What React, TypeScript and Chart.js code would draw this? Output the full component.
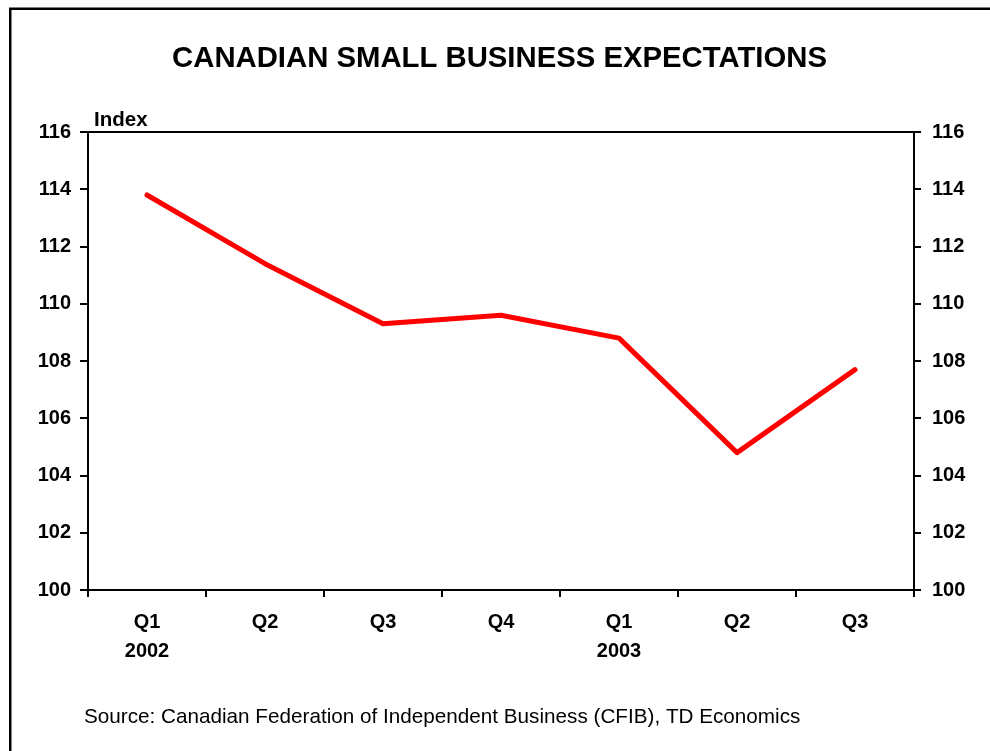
import React, { useEffect, useRef } from "react";
import { Chart, registerables } from "chart.js";

Chart.register(...registerables);

const categories: (string | string[])[] = [["Q1", "2002"], "Q2", "Q3", "Q4", ["Q1", "2003"], "Q2", "Q3"];
const expectations: number[] = [113.8, 111.4, 109.3, 109.6, 108.8, 104.8, 107.7];
const yMin = 100;
const yMax = 116;
const yStep = 2;
const titleText = "CANADIAN SMALL BUSINESS EXPECTATIONS";
const axisUnit = "Index";
const sourceText = "Source: Canadian Federation of Independent Business (CFIB), TD Economics";

const FONT = "'Liberation Sans', Arial, sans-serif";

const decorPlugin = {
  id: "decor",
  beforeDraw(chart: any) {
    const ctx = chart.ctx;
    ctx.save();
    ctx.fillStyle = "#ffffff";
    ctx.fillRect(0, 0, chart.width, chart.height);
    ctx.restore();
  },
  afterDraw(chart: any) {
    const ctx = chart.ctx;
    const a = chart.chartArea;
    ctx.save();
    ctx.strokeStyle = "#000";
    ctx.lineWidth = 2.5;
    ctx.strokeRect(10.25, 8.75, chart.width + 20, chart.height + 20);
    ctx.lineWidth = 2;
    ctx.beginPath();
    ctx.moveTo(a.left, a.top);
    ctx.lineTo(a.right, a.top);
    ctx.stroke();
    ctx.fillStyle = "#000";
    ctx.textAlign = "center";
    ctx.textBaseline = "alphabetic";
    ctx.font = `bold 29.3px ${FONT}`;
    ctx.fillText(titleText, 499.5, 67);
    ctx.textAlign = "left";
    ctx.font = `bold 20.5px ${FONT}`;
    ctx.fillText(axisUnit, 94, 126);
    ctx.font = `20.7px ${FONT}`;
    ctx.fillText(sourceText, 84, 723);
    ctx.restore();
  },
};

export default function App() {
  const ref = useRef<HTMLCanvasElement>(null);
  useEffect(() => {
    if (!ref.current) return;
    const tickFont = { family: FONT, size: 20, weight: "bold" as const };
    const yAxisCommon = {
      min: yMin,
      max: yMax,
      ticks: { stepSize: yStep, color: "#000", font: tickFont },
      border: { display: true, color: "#000", width: 2 },
    };
    const chart = new Chart(ref.current, {
      type: "line",
      data: {
        labels: categories,
        datasets: [
          {
            data: expectations,
            borderColor: "#ff0000",
            backgroundColor: "#ff0000",
            borderWidth: 5,
            borderCapStyle: "round",
            borderJoinStyle: "round",
            pointRadius: 0,
            tension: 0,
            fill: false,
          },
        ],
      },
      options: {
        animation: false,
        responsive: false,
        maintainAspectRatio: false,
        layout: { padding: { top: 132, left: 0, right: 0, bottom: 0 } },
        plugins: { legend: { display: false }, title: { display: false }, tooltip: { enabled: false } },
        scales: {
          x: {
            type: "category",
            offset: true,
            grid: { offset: true, drawOnChartArea: false, drawTicks: true, tickLength: 7, color: "#000", lineWidth: 2 },
            border: { display: true, color: "#000", width: 2 },
            ticks: { color: "#000", font: { ...tickFont, lineHeight: 1.45 }, padding: 11, maxRotation: 0, autoSkip: false },
            afterFit: (s: any) => { s.height = 161; },
          },
          y: {
            ...yAxisCommon,
            position: "left",
            grid: { drawOnChartArea: false, drawTicks: true, tickLength: 8, color: "#000", lineWidth: 2 },
            ticks: { ...yAxisCommon.ticks, padding: 9 },
            afterFit: (s: any) => { s.width = 88; },
          },
          y2: {
            ...yAxisCommon,
            position: "right",
            grid: { drawOnChartArea: false, drawTicks: true, tickLength: 7, color: "#000", lineWidth: 2 },
            ticks: { ...yAxisCommon.ticks, padding: 11 },
            afterFit: (s: any) => { s.width = 76; },
          },
        },
      } as any,
      plugins: [decorPlugin],
    });
    return () => chart.destroy();
  }, []);
  return (
    <div style={{ position: "fixed", left: 0, top: 0, width: 990, height: 751 }}>
      <canvas ref={ref} width={990} height={751} style={{ display: "block", width: 990, height: 751 }} />
    </div>
  );
}
